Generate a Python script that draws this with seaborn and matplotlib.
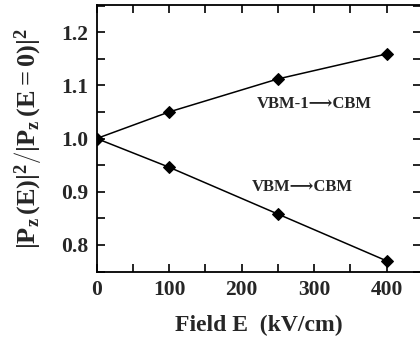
import matplotlib
matplotlib.use("Agg")
import matplotlib.pyplot as plt
import seaborn as sns
import pandas as pd
from matplotlib.ticker import MultipleLocator

field = [0, 100, 250, 400]
vbm1_cbm = [1.000, 1.050, 1.112, 1.159]
vbm_cbm = [1.000, 0.946, 0.858, 0.770]
series_names = ["VBM-1\u2192CBM", "VBM\u2192CBM"]

df = pd.concat([
    pd.DataFrame({"E": field, "ratio": vbm1_cbm, "series": series_names[0]}),
    pd.DataFrame({"E": field, "ratio": vbm_cbm, "series": series_names[1]}),
])

sns.set_style("ticks")
plt.rcParams["font.family"] = ["Liberation Serif", "DejaVu Serif"]
plt.rcParams["font.weight"] = "bold"
plt.rcParams["mathtext.fontset"] = "custom"
plt.rcParams["mathtext.rm"] = "Liberation Serif:bold"
plt.rcParams["mathtext.bf"] = "Liberation Serif:bold"
plt.rcParams["mathtext.it"] = "Liberation Serif:bold"

fig = plt.figure(figsize=(4.2, 3.49), dpi=100)
ax = fig.add_axes([0.2302, 0.222, 0.7733, 0.7637])

sns.lineplot(data=df, x="E", y="ratio", units="series", estimator=None,
             color="black", marker="D", markersize=6, markeredgecolor="black",
             linewidth=1.1, ax=ax, legend=False)

ax.set_xlim(0, 448)
ax.set_ylim(0.75, 1.251)
ax.xaxis.set_major_locator(MultipleLocator(100))
ax.xaxis.set_minor_locator(MultipleLocator(50))
ax.yaxis.set_major_locator(MultipleLocator(0.1))
ax.yaxis.set_minor_locator(MultipleLocator(0.05))
ax.yaxis.set_major_formatter(matplotlib.ticker.FormatStrFormatter("%.1f"))
ax.tick_params(which="both", direction="in", top=True, right=True, width=1.2, color="black")
ax.tick_params(which="major", length=5.5, labelsize=15.5, pad=6)
ax.tick_params(which="minor", length=5.5)
for s in ax.spines.values():
    s.set_linewidth(1.3)
    s.set_color("black")
for lab in ax.get_xticklabels() + ax.get_yticklabels():
    lab.set_fontweight("bold")

ax.set_xlabel("Field E  (kV/cm)", fontsize=17, fontweight="bold", labelpad=11)
ax.set_ylabel(r"$\left.|\mathbf{P}_z\,(\mathbf{E})|^2\right/|\mathbf{P}_z\,(\mathbf{E}{=}\mathbf{0})|^2$",
              fontsize=19, labelpad=12)

ax.text(300, 1.064, "VBM-1\u27F6CBM", fontsize=12, fontweight="bold", ha="center", va="center",
        family=["Liberation Serif", "DejaVu Serif"])
ax.text(284, 0.908, "VBM\u27F6CBM", fontsize=12, fontweight="bold", ha="center", va="center",
        family=["Liberation Serif", "DejaVu Serif"])

fig.savefig("out.png", dpi=100)
